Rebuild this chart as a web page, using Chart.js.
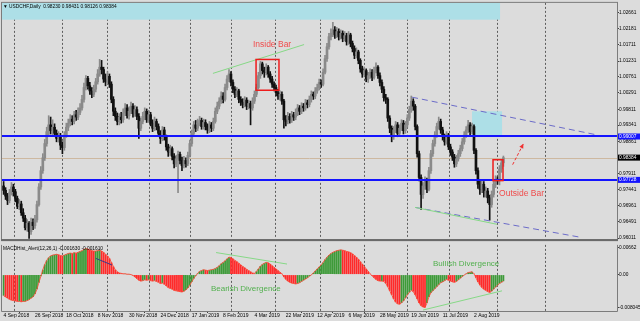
<!DOCTYPE html>
<html><head><meta charset="utf-8">
<script src="https://cdn.jsdelivr.net/npm/chart.js@4.4.0/dist/chart.umd.min.js"></script>
<style>
html,body{margin:0;padding:0;background:#dcdcdc;width:640px;height:321px;overflow:hidden}
canvas{position:absolute;left:0}
#c1{top:0}
#c2{top:242px}
</style></head><body>
<canvas id="c1" width="640" height="242"></canvas>
<canvas id="c2" width="640" height="79"></canvas>
<script>
// ---------- DATA ----------
const dateLabels = ['4 Sep 2018','26 Sep 2018','18 Oct 2018','8 Nov 2018','30 Nov 2018','24 Dec 2018','17 Jan 2019','8 Feb 2019','4 Mar 2019','22 Mar 2019','12 Apr 2019','6 May 2019','28 May 2019','19 Jun 2019','11 Jul 2019','2 Aug 2019'];
const labelIdx = [0,16,32,48,64,80,96,112,128,144,160,176,192,208,224,240];
const gridIdx = [18,42.5,64,84.5,106,127,150.5,172.5,196,216,239.5,264];
const priceTicks = [1.02661,1.02181,1.01711,1.01231,1.00761,1.00291,0.99811,0.99341,0.98861,0.98381,0.97911,0.97441,0.96961,0.96491,0.96011];
const macdTicks = [0.00662,0,-0.008045];
const macdTickLabels = ['0.00662','0.00','-0.008045'];
const levelLines = [0.99007,0.97728];
const lastPrice = 0.98384;

const opens = [
0.9755,0.9742,0.9725,0.9712,0.9735,0.9752,0.9738,0.9718,0.9695,0.9702,
0.9676,0.9660,0.9632,0.9645,0.9620,0.9648,0.9638,0.9655,0.9700,0.9752,
0.9800,0.9838,0.9880,0.9915,0.9935,0.9918,0.9928,0.9910,0.9895,0.9902,
0.9875,0.9868,0.9905,0.9928,0.9940,0.9952,0.9945,0.9965,0.9958,0.9972,
0.9985,1.0010,1.0045,1.0072,1.0050,1.0035,1.0025,1.0040,1.0062,1.0085,
1.0105,1.0098,1.0070,1.0062,1.0078,1.0055,1.0010,0.9975,0.9960,0.9945,
0.9958,0.9950,0.9970,0.9985,0.9962,0.9975,0.9990,0.9968,0.9980,0.9960,
0.9925,0.9945,0.9960,0.9975,0.9950,0.9965,0.9940,0.9925,0.9945,0.9930,
0.9910,0.9895,0.9920,0.9900,0.9870,0.9855,0.9865,0.9842,0.9820,0.9835,
0.9848,0.9830,0.9815,0.9830,0.9820,0.9845,0.9880,0.9910,0.9935,0.9925,
0.9940,0.9948,0.9930,0.9942,0.9930,0.9920,0.9935,0.9925,0.9945,0.9975,
0.9990,1.0005,1.0020,1.0010,1.0045,1.0070,1.0085,1.0060,1.0040,1.0025,
1.0035,1.0010,1.0002,0.9995,1.0008,0.9990,0.9998,0.9985,1.0005,1.0025,
1.0045,1.0080,1.0115,1.0095,1.0090,1.0105,1.0085,1.0070,1.0055,1.0045,
1.0030,1.0020,1.0025,1.0005,0.9950,0.9945,0.9960,0.9950,0.9965,0.9958,
0.9970,0.9985,0.9975,0.9990,0.9985,1.0000,0.9995,1.0010,1.0025,1.0020,
1.0035,1.0045,1.0060,1.0055,1.0090,1.0130,1.0165,1.0195,1.0205,1.0215,
1.0200,1.0210,1.0195,1.0205,1.0190,1.0198,1.0180,1.0200,1.0175,1.0160,
1.0140,1.0150,1.0125,1.0100,1.0085,1.0095,1.0070,1.0080,1.0090,1.0075,
1.0095,1.0105,1.0080,1.0060,1.0040,1.0015,1.0010,0.9955,0.9925,0.9900,
0.9920,0.9935,0.9910,0.9925,0.9940,0.9918,0.9935,0.9955,0.9980,1.0005,
0.9990,0.9930,0.9850,0.9780,0.9730,0.9755,0.9770,0.9745,0.9800,0.9850,
0.9880,0.9905,0.9930,0.9945,0.9920,0.9900,0.9885,0.9905,0.9870,0.9855,
0.9840,0.9820,0.9835,0.9850,0.9865,0.9885,0.9905,0.9920,0.9935,0.9915,
0.9930,0.9860,0.9800,0.9760,0.9745,0.9760,0.9735,0.9740,0.9720,0.9700,
0.9730,0.9760,0.9775,0.9770,0.9805,0.98230];
const highs = [
0.9768,0.9750,0.9733,0.9745,0.9765,0.9760,0.9745,0.9725,0.9715,0.9710,
0.9688,0.9668,0.9656,0.9650,0.9660,0.9658,0.9668,0.9710,0.9762,0.9812,
0.9850,0.9892,0.9928,0.9962,0.9958,0.9950,0.9938,0.9920,0.9915,0.9910,
0.9885,0.9915,0.9940,0.9952,0.9965,0.9962,0.9975,0.9978,0.9985,0.9998,
1.0022,1.0058,1.0080,1.0078,1.0060,1.0045,1.0052,1.0072,1.0098,1.0128,
1.0125,1.0105,1.0085,1.0092,1.0085,1.0062,1.0018,0.9985,0.9970,0.9968,
0.9972,0.9982,0.9998,0.9995,0.9988,1.0002,0.9998,0.9992,0.9988,0.9968,
0.9955,0.9972,0.9985,0.9982,0.9978,0.9972,0.9950,0.9958,0.9952,0.9938,
0.9918,0.9930,0.9928,0.9905,0.9878,0.9875,0.9870,0.9850,0.9845,0.9858,
0.9855,0.9840,0.9842,0.9838,0.9855,0.9890,0.9920,0.9945,0.9948,0.9952,
0.9960,0.9955,0.9952,0.9950,0.9938,0.9945,0.9942,0.9955,0.9985,1.0002,
1.0015,1.0032,1.0030,1.0055,1.0080,1.0098,1.0092,1.0068,1.0048,1.0045,
1.0040,1.0018,1.0012,1.0018,1.0015,1.0008,1.0005,1.0015,1.0035,1.0055,
1.0090,1.0122,1.0120,1.0105,1.0115,1.0110,1.0092,1.0078,1.0062,1.0052,
1.0040,1.0035,1.0032,1.0010,0.9962,0.9972,0.9968,0.9975,0.9972,0.9982,
0.9995,0.9992,1.0000,0.9998,1.0010,1.0008,1.0020,1.0035,1.0032,1.0045,
1.0055,1.0070,1.0068,1.0100,1.0140,1.0175,1.0205,1.0218,1.0237,1.0225,
1.0222,1.0218,1.0215,1.0212,1.0210,1.0205,1.0210,1.0205,1.0182,1.0168,
1.0162,1.0155,1.0130,1.0108,1.0105,1.0100,1.0090,1.0100,1.0098,1.0105,
1.0118,1.0110,1.0088,1.0068,1.0048,1.0025,1.0015,0.9962,0.9932,0.9930,
0.9945,0.9942,0.9935,0.9950,0.9948,0.9945,0.9965,0.9990,1.0020,1.0012,
0.9995,0.9935,0.9858,0.9788,0.9765,0.9782,0.9778,0.9810,0.9860,0.9890,
0.9915,0.9940,0.9958,0.9952,0.9928,0.9908,0.9915,0.9910,0.9878,0.9862,
0.9848,0.9845,0.9860,0.9875,0.9895,0.9915,0.9930,0.9948,0.9942,0.9940,
0.9935,0.9865,0.9808,0.9772,0.9772,0.9768,0.9752,0.9748,0.9728,0.9740,
0.9770,0.9785,0.9782,0.9815,0.9832,0.98431];
const lows = [
0.9730,0.9715,0.9700,0.9705,0.9728,0.9725,0.9708,0.9688,0.9685,0.9668,
0.9650,0.9625,0.9622,0.9600,0.9612,0.9626,0.9630,0.9648,0.9695,0.9745,
0.9792,0.9830,0.9872,0.9905,0.9908,0.9905,0.9900,0.9885,0.9884,0.9862,
0.9850,0.9860,0.9898,0.9918,0.9932,0.9935,0.9938,0.9948,0.9950,0.9965,
0.9978,1.0002,1.0038,1.0040,1.0025,1.0015,1.0018,1.0032,1.0055,1.0078,
1.0085,1.0060,1.0050,1.0055,1.0045,1.0000,0.9962,0.9948,0.9935,0.9935,
0.9940,0.9942,0.9962,0.9955,0.9952,0.9968,0.9958,0.9960,0.9950,0.9895,
0.9918,0.9938,0.9950,0.9942,0.9942,0.9932,0.9915,0.9918,0.9920,0.9900,
0.9880,0.9888,0.9890,0.9860,0.9842,0.9845,0.9832,0.9808,0.9812,0.9735,
0.9820,0.9800,0.9808,0.9810,0.9815,0.9840,0.9872,0.9902,0.9915,0.9918,
0.9932,0.9922,0.9922,0.9920,0.9910,0.9912,0.9915,0.9918,0.9940,0.9968,
0.9982,0.9998,1.0000,1.0005,1.0038,1.0062,1.0050,1.0030,1.0015,1.0018,
1.0000,0.9992,0.9985,0.9988,0.9980,0.9982,0.9935,0.9978,0.9998,1.0018,
1.0040,1.0072,1.0085,1.0075,1.0082,1.0075,1.0060,1.0045,1.0035,1.0020,
1.0010,1.0008,0.9995,0.9925,0.9932,0.9938,0.9940,0.9942,0.9948,0.9950,
0.9962,0.9965,0.9968,0.9975,0.9978,0.9985,0.9988,1.0002,1.0010,1.0012,
1.0028,1.0038,1.0045,1.0050,1.0085,1.0122,1.0158,1.0185,1.0195,1.0190,
1.0192,1.0185,1.0188,1.0180,1.0182,1.0170,1.0172,1.0165,1.0150,1.0130,
1.0132,1.0115,1.0090,1.0075,1.0078,1.0062,1.0060,1.0072,1.0065,1.0070,
1.0088,1.0072,1.0050,1.0030,1.0005,0.9998,0.9945,0.9912,0.9885,0.9892,
0.9912,0.9900,0.9902,0.9918,0.9908,0.9910,0.9928,0.9948,0.9972,0.9978,
0.9920,0.9840,0.9770,0.9686,0.9718,0.9745,0.9735,0.9740,0.9792,0.9842,
0.9872,0.9898,0.9922,0.9910,0.9890,0.9875,0.9878,0.9862,0.9845,0.9830,
0.9810,0.9812,0.9828,0.9842,0.9858,0.9878,0.9898,0.9912,0.9905,0.9908,
0.9850,0.9790,0.9748,0.9730,0.9735,0.9722,0.9722,0.9705,0.9654,0.9692,
0.9722,0.9750,0.9760,0.9758,0.9795,0.98126];
const closes = [
0.9742,0.9725,0.9712,0.9735,0.9752,0.9738,0.9718,0.9695,0.9702,0.9676,
0.9660,0.9632,0.9645,0.9620,0.9648,0.9638,0.9655,0.9700,0.9752,0.9800,
0.9838,0.9880,0.9915,0.9935,0.9918,0.9928,0.9910,0.9895,0.9902,0.9875,
0.9868,0.9905,0.9928,0.9940,0.9952,0.9945,0.9965,0.9958,0.9972,0.9985,
1.0010,1.0045,1.0072,1.0050,1.0035,1.0025,1.0040,1.0062,1.0085,1.0105,
1.0098,1.0070,1.0062,1.0078,1.0055,1.0010,0.9975,0.9960,0.9945,0.9958,
0.9950,0.9970,0.9985,0.9962,0.9975,0.9990,0.9968,0.9980,0.9960,0.9925,
0.9945,0.9960,0.9975,0.9950,0.9965,0.9940,0.9925,0.9945,0.9930,0.9910,
0.9895,0.9920,0.9900,0.9870,0.9855,0.9865,0.9842,0.9820,0.9835,0.9848,
0.9830,0.9815,0.9830,0.9820,0.9845,0.9880,0.9910,0.9935,0.9925,0.9940,
0.9948,0.9930,0.9942,0.9930,0.9920,0.9935,0.9925,0.9945,0.9975,0.9990,
1.0005,1.0020,1.0010,1.0045,1.0070,1.0085,1.0060,1.0040,1.0025,1.0035,
1.0010,1.0002,0.9995,1.0008,0.9990,0.9998,0.9985,1.0005,1.0025,1.0045,
1.0080,1.0115,1.0095,1.0090,1.0105,1.0085,1.0070,1.0055,1.0045,1.0030,
1.0020,1.0025,1.0005,0.9950,0.9945,0.9960,0.9950,0.9965,0.9958,0.9970,
0.9985,0.9975,0.9990,0.9985,1.0000,0.9995,1.0010,1.0025,1.0020,1.0035,
1.0045,1.0060,1.0055,1.0090,1.0130,1.0165,1.0195,1.0205,1.0215,1.0200,
1.0210,1.0195,1.0205,1.0190,1.0198,1.0180,1.0200,1.0175,1.0160,1.0140,
1.0150,1.0125,1.0100,1.0085,1.0095,1.0070,1.0080,1.0090,1.0075,1.0095,
1.0105,1.0080,1.0060,1.0040,1.0015,1.0010,0.9955,0.9925,0.9900,0.9920,
0.9935,0.9910,0.9925,0.9940,0.9918,0.9935,0.9955,0.9980,1.0005,0.9990,
0.9930,0.9850,0.9780,0.9730,0.9755,0.9770,0.9745,0.9800,0.9850,0.9880,
0.9905,0.9930,0.9945,0.9920,0.9900,0.9885,0.9905,0.9870,0.9855,0.9840,
0.9820,0.9835,0.9850,0.9865,0.9885,0.9905,0.9920,0.9935,0.9915,0.9930,
0.9860,0.9800,0.9760,0.9745,0.9760,0.9735,0.9740,0.9720,0.9700,0.9730,
0.9760,0.9775,0.9770,0.9805,0.9823,0.98384];
const macd = [
-0.0052,-0.0055,-0.0058,-0.0061,-0.0063,-0.0064,-0.0065,-0.0066,-0.0066,-0.0067,
-0.0066,-0.0066,-0.0064,-0.0062,-0.0058,-0.0055,-0.0048,-0.0036,-0.0020,-0.0004,
0.0012,0.0025,0.0035,0.0042,0.0046,0.0048,0.0049,0.0050,0.0049,0.0047,
0.0046,0.0048,0.0050,0.0052,0.0053,0.0052,0.0054,0.0053,0.0055,0.0057,
0.0059,0.0062,0.0064,0.0063,0.0061,0.0059,0.0058,0.0058,0.0059,0.0060,
0.0058,0.0055,0.0050,0.0046,0.0040,0.0030,0.0020,0.0012,0.0007,0.0004,
0.0003,0.0002,0.0002,0.0001,0.0001,0.0000,-0.0002,-0.0006,-0.0010,-0.0014,
-0.0016,-0.0015,-0.0013,-0.0014,-0.0013,-0.0015,-0.0016,-0.0015,-0.0017,-0.0019,
-0.0022,-0.0021,-0.0024,-0.0028,-0.0032,-0.0034,-0.0036,-0.0039,-0.0040,-0.0041,
-0.0042,-0.0043,-0.0041,-0.0038,-0.0033,-0.0026,-0.0018,-0.0010,-0.0003,0.0003,
0.0008,0.0010,0.0012,0.0011,0.0010,0.0011,0.0012,0.0013,0.0015,0.0018,
0.0022,0.0027,0.0030,0.0034,0.0039,0.0043,0.0042,0.0039,0.0035,0.0032,
0.0028,0.0024,0.0020,0.0017,0.0013,0.0010,0.0007,0.0004,0.0003,0.0008,
0.0014,0.0021,0.0025,0.0028,0.0030,0.0029,0.0026,0.0022,0.0018,0.0014,
0.0010,0.0006,0.0002,-0.0006,-0.0012,-0.0016,-0.0019,-0.0021,-0.0022,-0.0023,
-0.0022,-0.0020,-0.0017,-0.0014,-0.0011,-0.0008,-0.0004,-0.0001,0.0004,0.0009,
0.0014,0.0019,0.0024,0.0030,0.0037,0.0043,0.0048,0.0052,0.0055,0.0057,
0.0059,0.0060,0.0061,0.0060,0.0059,0.0057,0.0056,0.0054,0.0051,0.0047,
0.0043,0.0038,0.0032,0.0026,0.0020,0.0014,0.0008,0.0002,-0.0003,-0.0008,
-0.0012,-0.0015,-0.0016,-0.0016,-0.0017,-0.0022,-0.0030,-0.0040,-0.0050,-0.0060,
-0.0068,-0.0072,-0.0073,-0.0070,-0.0065,-0.0058,-0.0050,-0.0044,-0.0039,-0.0042,
-0.0050,-0.0060,-0.0070,-0.0077,-0.0080,-0.0081,-0.0070,-0.0055,-0.0045,-0.0040,
-0.0035,-0.0030,-0.0025,-0.0020,-0.0018,-0.0015,-0.0012,-0.0014,-0.0016,-0.0018,
-0.0019,-0.0017,-0.0013,-0.0009,-0.0005,-0.0001,0.0002,0.0005,0.0006,0.0007,
0.0002,-0.0008,-0.0018,-0.0026,-0.0032,-0.0036,-0.0039,-0.0042,-0.0044,-0.0041,
-0.0036,-0.0031,-0.0026,-0.0022,-0.0019,-0.00163];

// ---------- LAYOUT / STYLE ----------
const XMIN = -0.82, XMAX = 312.96;
const YMIN = 0.95982, YMAX = 1.02945;
const MMIN = -0.00897, MMAX = 0.00732;
const FONT = '"Liberation Sans", Arial, sans-serif';
Chart.defaults.font.family = FONT;
Chart.defaults.color = '#000';

// annotation objects in data space (bar index, price)
const cyanRects = [
  {x1: XMIN, x2: 253.3, y1: YMAX, y2: 1.0245},
  {x1: 239, x2: 254.3, y1: 0.9975, y2: 0.99007}
];
const dashedLines = [
  {x1: 208.4, y1: 1.00165, x2: 302.8, y2: 0.99053},
  {x1: 209.9, y1: 0.96917, x2: 294.1, y2: 0.96039}
];
const greenLines = [
  {x1: 209.9, y1: 0.96917, x2: 251.7, y2: 0.96419},
  {x1: 106.8, y1: 1.00867, x2: 153.3, y2: 1.01716}
];
const redBoxes = [
  {x1: 128.8, x2: 140.5, y1: 1.01277, y2: 1.00370},
  {x1: 249.7, x2: 254.8, y1: 0.98322, y2: 0.97707}
];
const mainTexts = [
  {t: 'Inside Bar', x: 127.2, y: 1.01716},
  {t: 'Outside Bar', x: 252.8, y: 0.97327}
];
const arrow = {x1: 259.7, y1: 0.98176, x2: 265.2, y2: 0.98790};

const idx = closes.map((_, i) => i);
const candleColor = closes.map((c, i) => c >= opens[i] ? '#8a8a8a' : '#111111');

const mainDecor = {
  id: 'mainDecor',
  beforeDatasetsDraw(chart) {
    const {ctx, chartArea: a, scales: {x, y}} = chart;
    ctx.save();
    ctx.beginPath(); ctx.rect(a.left, a.top, a.right - a.left, a.bottom - a.top); ctx.clip();
    ctx.fillStyle = '#addfe7';
    cyanRects.forEach(r => {
      const X1 = x.getPixelForValue(r.x1), X2 = x.getPixelForValue(r.x2);
      const Y1 = y.getPixelForValue(r.y1), Y2 = y.getPixelForValue(r.y2);
      ctx.fillRect(X1, Y1, X2 - X1, Y2 - Y1);
    });
    ctx.strokeStyle = '#cdb8a0'; ctx.lineWidth = 1;
    const yb = Math.round(y.getPixelForValue(lastPrice)) + 0.5;
    ctx.beginPath(); ctx.moveTo(a.left, yb); ctx.lineTo(a.right, yb); ctx.stroke();
    ctx.restore();
  },
  afterDatasetsDraw(chart) {
    const {ctx, chartArea: a, scales: {x, y}} = chart;
    const P = (i, v) => [x.getPixelForValue(i), y.getPixelForValue(v)];
    ctx.save();
    ctx.beginPath(); ctx.rect(a.left, a.top, a.right - a.left, a.bottom - a.top); ctx.clip();
    // level lines
    ctx.strokeStyle = '#1414ff'; ctx.lineWidth = 2;
    levelLines.forEach(v => {
      const yy = Math.round(y.getPixelForValue(v));
      ctx.beginPath(); ctx.moveTo(a.left, yy); ctx.lineTo(a.right, yy); ctx.stroke();
    });
    // channel
    ctx.strokeStyle = '#6b6bc8'; ctx.lineWidth = 1; ctx.setLineDash([6, 4]);
    dashedLines.forEach(l => {
      const [X1, Y1] = P(l.x1, l.y1), [X2, Y2] = P(l.x2, l.y2);
      ctx.beginPath(); ctx.moveTo(X1, Y1); ctx.lineTo(X2, Y2); ctx.stroke();
    });
    ctx.setLineDash([]);
    ctx.strokeStyle = '#86d886';
    greenLines.forEach(l => {
      const [X1, Y1] = P(l.x1, l.y1), [X2, Y2] = P(l.x2, l.y2);
      ctx.beginPath(); ctx.moveTo(X1, Y1); ctx.lineTo(X2, Y2); ctx.stroke();
    });
    // red boxes
    ctx.strokeStyle = '#ee1c1c'; ctx.lineWidth = 1.5;
    redBoxes.forEach(r => {
      const [X1, Y1] = P(r.x1, r.y1), [X2, Y2] = P(r.x2, r.y2);
      ctx.strokeRect(X1, Y1, X2 - X1, Y2 - Y1);
    });
    // texts
    ctx.fillStyle = '#f04c4c'; ctx.font = '8.5px ' + FONT;
    ctx.textAlign = 'left'; ctx.textBaseline = 'middle';
    mainTexts.forEach(t => { const [X, Y] = P(t.x, t.y); ctx.fillText(t.t, X, Y); });
    // arrow
    const [A1, B1] = P(arrow.x1, arrow.y1), [A2, B2] = P(arrow.x2, arrow.y2);
    ctx.strokeStyle = '#f03030'; ctx.lineWidth = 1; ctx.setLineDash([3, 2]);
    ctx.beginPath(); ctx.moveTo(A1, B1); ctx.lineTo(A2, B2); ctx.stroke();
    ctx.setLineDash([]);
    const ang = Math.atan2(B2 - B1, A2 - A1), hl = 5;
    ctx.fillStyle = '#f03030';
    ctx.beginPath(); ctx.moveTo(A2, B2);
    ctx.lineTo(A2 - hl * Math.cos(ang - 0.45), B2 - hl * Math.sin(ang - 0.45));
    ctx.lineTo(A2 - hl * Math.cos(ang + 0.45), B2 - hl * Math.sin(ang + 0.45));
    ctx.closePath(); ctx.fill();
    ctx.restore();
  },
  afterDraw(chart) {
    const {ctx, chartArea: a, scales: {y}} = chart;
    ctx.save();
    // frame
    ctx.strokeStyle = '#7c7c7c'; ctx.lineWidth = 1;
    ctx.strokeRect(a.left - 0.5, a.top - 0.5, a.right - a.left + 1, a.bottom - a.top + 1);
    ctx.fillStyle = '#6a6a6a';
    ctx.fillRect(a.left - 1, a.bottom, a.right - a.left + 2, 2);
    // title
    ctx.fillStyle = '#000'; ctx.font = '4.8px ' + FONT; ctx.textBaseline = 'middle'; ctx.textAlign = 'left';
    ctx.fillText('\u25BC USDCHF,Daily  0.98230 0.98431 0.98126 0.98384', a.left + 1, a.top + 3.5);
    // axis price boxes
    const boxes = [[levelLines[0], '#1414ff'], [levelLines[1], '#1414ff'], [lastPrice, '#000000']];
    boxes.forEach(([v, c]) => {
      const yy = y.getPixelForValue(v);
      ctx.fillStyle = c; ctx.fillRect(a.right + 1, yy - 3, 22, 6);
      ctx.fillStyle = '#fff'; ctx.fillText(v.toFixed(5), a.right + 2, yy);
    });
    ctx.restore();
  }
};

new Chart(document.getElementById('c1'), {
  type: 'bar',
  data: { datasets: [
    { data: idx.map(i => ({x: i, y: [opens[i], closes[i]]})), backgroundColor: candleColor, barThickness: 2, grouped: false, order: 1, minBarLength: 1 },
    { data: idx.map(i => ({x: i, y: [lows[i], highs[i]]})), backgroundColor: candleColor, barThickness: 1, grouped: false, order: 2 }
  ]},
  options: {
    responsive: false, animation: false, events: [],
    layout: { padding: { left: 2, top: 2, right: 0, bottom: 2 } },
    plugins: { legend: {display: false}, tooltip: {enabled: false} },
    scales: {
      x: { type: 'linear', min: XMIN, max: XMAX, offset: false,
        afterBuildTicks: s => { s.ticks = gridIdx.map(v => ({value: v})); },
        ticks: {display: false}, grid: {color: '#5e5e5e', lineWidth: 1, drawTicks: false},
        border: {display: false, dash: [2, 2]}, afterFit: s => { s.height = 0; } },
      y: { type: 'linear', position: 'right', min: YMIN, max: YMAX,
        afterBuildTicks: s => { s.ticks = priceTicks.map(v => ({value: v})); },
        ticks: { autoSkip: false, padding: 0, font: {size: 4.8}, callback: v => v.toFixed(5) },
        grid: { drawOnChartArea: false, tickLength: 2, color: '#404040' },
        border: {display: false}, afterFit: s => { s.width = 23; } }
    }
  },
  plugins: [mainDecor]
});

// ---------- MACD PANEL ----------
const macdColor = macd.map((v, i) => (i === 0 || v >= macd[i - 1]) ? '#3d9a38' : '#ff2a2a');
const macdLines = [
  {x1: 47, y1: 0.0040, x2: 55.3, y2: 0.00236, c: '#3a3a8c'},
  {x1: 108.4, y1: 0.00543, x2: 144.6, y2: 0.0026, c: '#86d886'},
  {x1: 214, y1: -0.00873, x2: 254.3, y2: -0.0040, c: '#86d886'}
];
const macdTexts = [
  {t: 'Bearish Divergence', x: 105.8, y: -0.00354},
  {t: 'Bullish Divergence', x: 219.1, y: 0.0026}
];
const macdDecor = {
  id: 'macdDecor',
  afterDatasetsDraw(chart) {
    const {ctx, chartArea: a, scales: {x, y}} = chart;
    ctx.save();
    ctx.lineWidth = 1;
    macdLines.forEach(l => {
      ctx.strokeStyle = l.c;
      ctx.beginPath();
      ctx.moveTo(x.getPixelForValue(l.x1), y.getPixelForValue(l.y1));
      ctx.lineTo(x.getPixelForValue(l.x2), y.getPixelForValue(l.y2));
      ctx.stroke();
    });
    ctx.fillStyle = '#52b04e'; ctx.font = '8px ' + FONT; ctx.textAlign = 'left'; ctx.textBaseline = 'middle';
    macdTexts.forEach(t => ctx.fillText(t.t, x.getPixelForValue(t.x), y.getPixelForValue(t.y)));
    ctx.fillStyle = '#000'; ctx.font = '4.8px ' + FONT;
    ctx.fillText('MACDHist_Alert(12,26,1) -0.001630 -0.001610', a.left + 1, a.top + 4);
    ctx.restore();
  },
  afterDraw(chart) {
    const {ctx, chartArea: a} = chart;
    ctx.save();
    ctx.strokeStyle = '#7c7c7c'; ctx.lineWidth = 1;
    ctx.beginPath();
    ctx.moveTo(a.left - 0.5, a.top); ctx.lineTo(a.left - 0.5, a.bottom + 0.5);
    ctx.lineTo(a.right + 0.5, a.bottom + 0.5); ctx.lineTo(a.right + 0.5, a.top);
    ctx.stroke();
    ctx.restore();
  }
};

new Chart(document.getElementById('c2'), {
  type: 'bar',
  data: { datasets: [
    { type: 'line', data: idx.map(i => ({x: i, y: macd[i]})), borderColor: 'rgba(250,70,50,0.85)', borderWidth: 1, pointRadius: 0, order: 0 },
    { type: 'bar', data: idx.map(i => ({x: i, y: macd[i]})), backgroundColor: macdColor, barPercentage: 0.9, categoryPercentage: 1, order: 1 }
  ]},
  options: {
    responsive: false, animation: false, events: [],
    layout: { padding: { left: 2, top: 0, right: 0, bottom: 0 } },
    plugins: { legend: {display: false}, tooltip: {enabled: false} },
    scales: {
      x: { type: 'linear', min: XMIN, max: XMAX, offset: false,
        afterBuildTicks: s => { s.ticks = labelIdx.map(v => ({value: v})); },
        ticks: { autoSkip: false, maxRotation: 0, align: 'start', padding: 0, font: {size: 5},
          callback: v => dateLabels[labelIdx.indexOf(v)] },
        grid: { drawOnChartArea: false, tickLength: 2, color: '#404040' },
        border: {display: false}, afterFit: s => { s.height = 10; } },
      xg: { type: 'linear', position: 'bottom', min: XMIN, max: XMAX, offset: false,
        afterBuildTicks: s => { s.ticks = gridIdx.map(v => ({value: v})); },
        ticks: {display: false}, grid: {color: '#5e5e5e', lineWidth: 1, drawTicks: false},
        border: {display: false, dash: [2, 2]}, afterFit: s => { s.height = 0; } },
      y: { type: 'linear', position: 'right', min: MMIN, max: MMAX,
        afterBuildTicks: s => { s.ticks = macdTicks.map(v => ({value: v})); },
        ticks: { autoSkip: false, padding: 0, font: {size: 4.8}, callback: v => macdTickLabels[macdTicks.indexOf(v)] },
        grid: { drawOnChartArea: false, tickLength: 2, color: '#404040' },
        border: {display: false}, afterFit: s => { s.width = 23; } }
    }
  },
  plugins: [macdDecor]
});
</script>
</body></html>
